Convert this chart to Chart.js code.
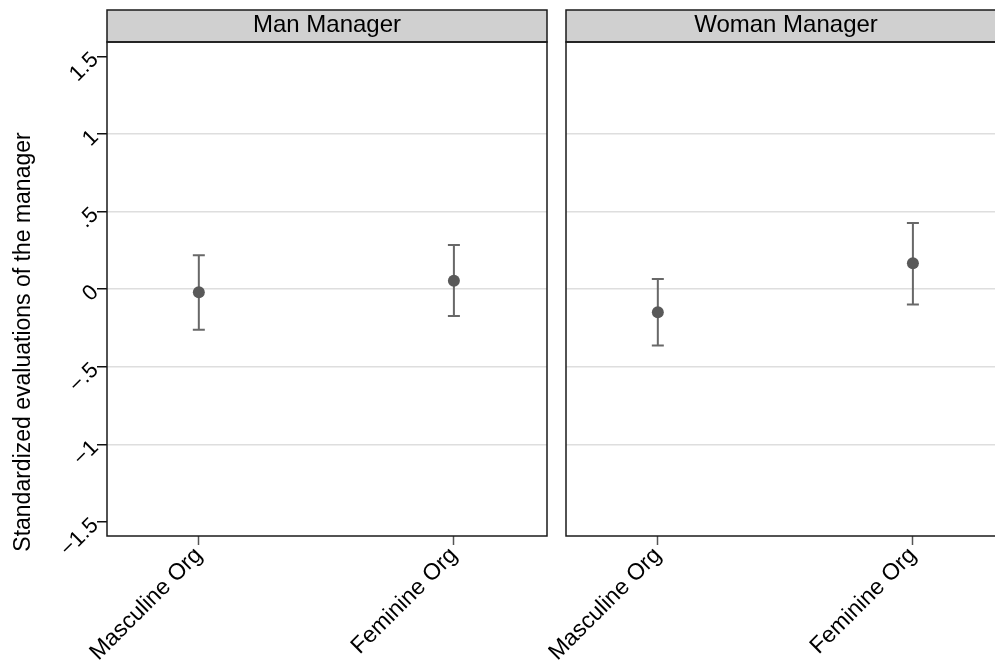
<!DOCTYPE html>
<html><head><meta charset="utf-8">
<script src="https://cdn.jsdelivr.net/npm/chart.js@4.4.1/dist/chart.umd.min.js"></script>
<style>
html,body{margin:0;padding:0;background:#fff;overflow:hidden;width:995px;height:660px;position:relative;}
canvas{position:absolute;top:0;}
#c1{left:0}
#c2{left:548px}
</style></head><body>
<canvas id="c1" width="548" height="660"></canvas>
<canvas id="c2" width="462" height="660"></canvas>
<script>
const panels = ["Man Manager", "Woman Manager"];
const categories = ["Masculine Org", "Feminine Org"];
const categoryPos = [1, 2];
const manMeans = [-0.019, 0.055];
const manLower = [-0.262, -0.172];
const manUpper = [0.219, 0.285];
const womanMeans = [-0.148, 0.167];
const womanLower = [-0.363, -0.099];
const womanUpper = [0.066, 0.427];
const yTickValues = [-1.5, -1, -0.5, 0, 0.5, 1, 1.5];
const yTickLabels = ["\u22121.5", "\u22121", "\u2212.5", "0", ".5", "1", "1.5"];
const yTitle = "Standardized evaluations of the manager";

const FONT = "'Liberation Sans', Arial, sans-serif";
Chart.defaults.font.family = FONT;
Chart.defaults.color = '#000';

const errorBars = {
  id: 'errorBars',
  beforeDatasetsDraw(chart) {
    const ds = chart.data.datasets[0];
    const xs = chart.scales.x, ys = chart.scales.y;
    const ctx = chart.ctx;
    ctx.save();
    ctx.strokeStyle = '#686868';
    ctx.lineWidth = 2;
    ds.data.forEach((p, i) => {
      const x = xs.getPixelForValue(p.x);
      const yl = ys.getPixelForValue(ds.lower[i]);
      const yu = ys.getPixelForValue(ds.upper[i]);
      ctx.beginPath();
      ctx.moveTo(x, yl); ctx.lineTo(x, yu);
      ctx.moveTo(x - 6, yl); ctx.lineTo(x + 6, yl);
      ctx.moveTo(x - 6, yu); ctx.lineTo(x + 6, yu);
      ctx.stroke();
    });
    ctx.restore();
  }
};

const frame = {
  id: 'frame',
  afterDraw(chart, args, opts) {
    const a = chart.chartArea;
    const ctx = chart.ctx;
    ctx.save();
    ctx.fillStyle = '#d0d0d0';
    ctx.fillRect(a.left, 10, a.right - a.left, a.top - 10);
    ctx.strokeStyle = '#1a1a1a';
    ctx.lineWidth = 1.5;
    ctx.strokeRect(a.left, 10, a.right - a.left, a.top - 10);
    ctx.strokeRect(a.left, a.top, a.right - a.left, a.bottom - a.top);
    ctx.fillStyle = '#000';
    ctx.font = '24px ' + FONT;
    ctx.textAlign = 'center';
    ctx.textBaseline = 'alphabetic';
    ctx.fillText(opts.header, (a.left + a.right) / 2, 32);
    if (opts.showTitle) {
      ctx.translate(29.5, 342);
      ctx.rotate(-Math.PI / 2);
      ctx.font = '23px ' + FONT;
      ctx.fillText(yTitle, 0, 0);
    }
    ctx.restore();
  }
};

function makeChart(id, header, means, lower, upper, showY, yWidth, padRight) {
  return new Chart(document.getElementById(id), {
    type: 'scatter',
    data: {
      datasets: [{
        data: categoryPos.map((x, i) => ({ x: x, y: means[i] })),
        lower: lower,
        upper: upper,
        pointRadius: 6,
        pointHoverRadius: 6,
        pointBackgroundColor: '#595959',
        pointBorderColor: '#595959',
        pointBorderWidth: 0,
        showLine: false
      }]
    },
    options: {
      responsive: false,
      animation: false,
      events: [],
      layout: { autoPadding: false, padding: { left: 0, right: padRight, top: 42, bottom: 0 } },
      plugins: {
        legend: { display: false },
        tooltip: { enabled: false },
        frame: { header: header, showTitle: showY }
      },
      scales: {
        x: {
          type: 'linear',
          min: 0.64,
          max: 2.365,
          afterBuildTicks: s => { s.ticks = categoryPos.map(v => ({ value: v })); },
          afterFit: s => { s.height = 124; s.paddingLeft = 0; s.paddingRight = 0; },
          border: { display: false },
          grid: {
            drawOnChartArea: false,
            drawTicks: true,
            tickLength: 9,
            tickColor: '#555',
            tickWidth: 1.5
          },
          ticks: {
            autoSkip: false,
            minRotation: 45,
            maxRotation: 45,
            padding: -3,
            color: '#000',
            font: { size: 23 },
            callback: v => categories[categoryPos.indexOf(v)]
          }
        },
        y: {
          type: 'linear',
          min: -1.59,
          max: 1.5924,
          afterBuildTicks: s => { s.ticks = yTickValues.map(v => ({ value: v })); },
          afterFit: s => { s.width = yWidth; },
          border: { display: false },
          grid: {
            drawTicks: showY,
            tickLength: 10,
            tickWidth: 1.5,
            tickColor: '#111',
            lineWidth: 1.5,
            color: c => (c.tick && Math.abs(c.tick.value) > 1.2) ? 'rgba(0,0,0,0)' : '#dedede'
          },
          ticks: {
            display: showY,
            minRotation: 45,
            maxRotation: 45,
            padding: 2,
            color: '#000',
            font: { size: 22 },
            callback: v => yTickLabels[yTickValues.indexOf(v)]
          }
        }
      }
    },
    plugins: [errorBars, frame]
  });
}

makeChart('c1', panels[0], manMeans, manLower, manUpper, true, 107, 1);
makeChart('c2', panels[1], womanMeans, womanLower, womanUpper, false, 18, 4);
</script>
</body></html>
